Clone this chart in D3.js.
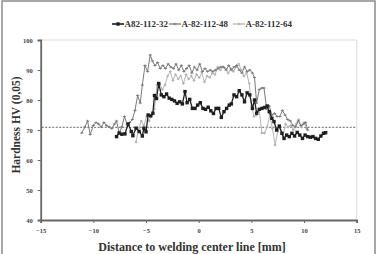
<!DOCTYPE html>
<html><head><meta charset="utf-8">
<script src="https://cdn.jsdelivr.net/npm/d3@7"></script>
<style>html,body{margin:0;padding:0;background:#fff;}svg{display:block;}</style>
</head><body>
<svg id="c" width="378" height="254"></svg>
<script>
const seriesNames = ["A82-112-32", "A-82-112-48", "A-82-112-64"];
const xTicks = [-15, -10, -5, 0, 5, 10, 15];
const yTicks = [40, 50, 60, 70, 80, 90, 100];
const refLine = 70.9;

const x32 = [-7.8,-7.55,-7.3,-7.0,-6.7,-6.4,-6.25,-5.95,-5.65,-5.35,-5.2,-5.0,-4.8,-4.55,-4.35,-4.2,-4.0,-3.8,-3.55,-3.3,-3.05,-2.8,-2.55,-2.3,-2.05,-1.8,-1.55,-1.3,-1.1,-0.85,-0.6,-0.35,-0.1,0.15,0.4,0.65,0.9,1.15,1.4,1.65,1.9,2.15,2.4,2.65,2.9,3.1,3.35,3.6,3.85,4.1,4.35,4.6,4.85,5.1,5.3,5.5,5.75,6.0,6.25,6.5,6.7,6.95,7.15,7.4,7.65,7.9,8.1,8.35,8.6,8.85,9.1,9.35,9.6,9.85,10.1,10.35,10.6,10.85,11.1,11.35,11.6,11.85,12.05];
const y32 = [67.8,69.0,68.6,68.7,72.0,69.5,68.1,70.6,69.5,68.0,70.6,69.4,75.0,74.7,75.6,81.5,80.5,85.5,81.7,81.1,82.0,80.6,80.2,79.7,78.9,79.4,78.7,82.8,79.1,80.2,77.2,77.2,78.3,79.1,77.2,76.9,77.6,76.4,75.5,77.2,77.2,74.2,76.1,77.2,78.3,78.7,81.7,81.1,83.1,81.7,79.4,82.4,81.7,77.2,80.0,75.6,76.9,77.2,77.5,78.0,76.1,73.9,72.8,70.0,71.3,68.9,67.2,68.3,67.8,68.9,68.0,69.2,68.3,67.2,68.3,67.8,67.6,67.8,67.2,66.9,68.0,68.9,69.1];

const x48 = [-11.1,-10.8,-10.55,-10.3,-10.0,-9.75,-9.5,-9.25,-9.0,-8.75,-8.5,-8.25,-8.0,-7.8,-7.55,-7.3,-7.05,-6.8,-6.55,-6.3,-6.05,-5.8,-5.55,-5.35,-5.1,-4.85,-4.6,-4.4,-4.15,-3.9,-3.65,-3.4,-3.15,-2.9,-2.65,-2.4,-2.15,-1.9,-1.65,-1.4,-1.15,-0.9,-0.65,-0.4,-0.15,0.1,0.35,0.6,0.85,1.1,1.35,1.6,1.85,2.1,2.35,2.6,2.85,3.1,3.35,3.6,3.85,4.1,4.35,4.6,4.85,5.1,5.3,5.5,5.75,6.0,6.2,6.45,6.7,6.95,7.2,7.45,7.7,7.95,8.2,8.45,8.7,8.95,9.2,9.45,9.7,9.95,10.15,10.35];
const y48 = [69.0,71.0,73.0,68.5,71.5,72.5,72.0,71.0,72.5,71.5,71.0,70.5,72.0,73.0,69.0,71.0,74.5,72.0,72.5,73.5,76.5,81.5,79.0,85.0,91.5,89.5,95.0,93.0,91.5,92.5,90.5,91.5,90.5,92.0,91.0,90.5,92.0,90.0,91.5,89.5,90.5,91.5,89.0,91.0,90.0,92.0,89.5,90.5,89.5,90.0,89.5,90.0,90.5,91.0,91.0,90.0,91.5,90.0,91.0,91.5,90.0,89.0,91.0,89.5,90.0,89.0,87.5,79.0,83.5,84.0,84.0,77.0,78.0,75.0,75.5,74.5,74.5,76.5,75.0,73.5,73.0,71.5,71.0,73.0,71.5,72.0,72.5,70.0];

const x64 = [-5.95,-5.7,-5.45,-5.2,-4.95,-4.7,-4.45,-4.2,-3.95,-3.7,-3.45,-3.2,-2.95,-2.7,-2.45,-2.2,-1.95,-1.7,-1.45,-1.2,-0.95,-0.7,-0.45,-0.2,0.05,0.3,0.55,0.8,1.05,1.3,1.55,1.8,2.05,2.3,2.55,2.8,3.05,3.3,3.55,3.8,4.05,4.3,4.55,4.8,5.0,5.25,5.5,5.75,6.0,6.25,6.5,6.75,7.0,7.25,7.5,7.75,8.0,8.25,8.5,8.75,9.0,9.25,9.5,9.75,10.0,10.25];
const y64 = [66.0,70.5,73.0,71.5,74.5,73.0,75.0,77.0,85.0,85.5,83.5,85.0,88.0,89.5,86.5,88.5,87.0,88.0,85.5,88.5,87.0,88.0,86.5,88.5,87.5,89.0,86.0,88.0,87.5,89.0,88.5,91.0,90.0,91.0,90.5,89.0,90.5,89.5,91.0,92.0,90.0,88.0,89.0,85.5,78.0,74.5,75.0,76.5,69.0,69.0,71.0,75.0,70.5,65.0,69.5,71.0,68.0,72.0,71.0,71.5,70.0,72.0,73.5,71.0,72.5,70.5];

const seriesColors = ["#1e1e1e", "#7a7a7a", "#b4b4b4"];

const svg = d3.select("#c");
const L = 40.7, R = 356.7, T = 40, B = 220;
const serif = "'Liberation Serif','Times New Roman',serif";

// outer frame
svg.append("rect").attr("x", 2).attr("y", 1).attr("width", 373).attr("height", 260)
  .attr("fill", "none").attr("stroke", "#8a8a8a").attr("stroke-width", 1.5);

const x = d3.scaleLinear().domain([-15, 15]).range([L, R]);
const y = d3.scaleLinear().domain([40, 100]).range([B, T]);

// plot area faint border
svg.append("path").attr("d", `M${L},${T}H${R}V${B}`).attr("fill", "none")
  .attr("stroke", "#dcdcdc").attr("stroke-width", 1);

// axes
const xAxis = svg.append("g").attr("transform", `translate(0,${B})`)
  .call(d3.axisBottom(x).tickValues(xTicks).tickSize(3).tickPadding(5).tickFormat(d3.format("d")));
const yAxis = svg.append("g").attr("transform", `translate(${L},0)`)
  .call(d3.axisLeft(y).tickValues(yTicks).tickSize(3).tickPadding(5).tickFormat(d3.format("d")));
[xAxis, yAxis].forEach(g => {
  g.select(".domain").attr("stroke", "#666").attr("stroke-width", 1.8);
  g.selectAll(".tick line").attr("stroke", "#666").attr("stroke-width", 1);
  g.selectAll(".tick text").attr("fill", "#444").attr("font-family", serif)
    .attr("font-weight", "bold").attr("font-size", 6.5);
});

// reference dashed line
svg.append("line").attr("x1", x(-15) + 1).attr("x2", x(15)).attr("y1", y(refLine)).attr("y2", y(refLine))
  .attr("stroke", "#555").attr("stroke-width", 0.9).attr("stroke-dasharray", "2,1.5");

const data = [
  {name: seriesNames[0], xs: x32, ys: y32, color: seriesColors[0], w: 1.3, marker: "square"},
  {name: seriesNames[1], xs: x48, ys: y48, color: seriesColors[1], w: 1.0, marker: "dash"},
  {name: seriesNames[2], xs: x64, ys: y64, color: seriesColors[2], w: 1.0, marker: "diamond"}
];

const line = d3.line().x(d => x(d[0])).y(d => y(d[1]));

function drawMarker(g, cx, cy, s) {
  if (s.marker === "square") {
    g.append("rect").attr("x", cx - 1.7).attr("y", cy - 1.7).attr("width", 3.4).attr("height", 3.4).attr("fill", s.color);
  } else if (s.marker === "dash") {
    g.append("path").attr("d", `M${cx - 1.6},${cy}H${cx + 1.6}M${cx},${cy - 1.2}V${cy + 1.2}`)
      .attr("stroke", s.color).attr("stroke-width", 0.9);
  } else {
    g.append("path").attr("d", `M${cx},${cy - 1.6}L${cx + 1.6},${cy}L${cx},${cy + 1.6}L${cx - 1.6},${cy}Z`)
      .attr("fill", s.color);
  }
}

[data[2], data[1], data[0]].forEach(s => {
  const pts = s.xs.map((v, i) => [v, s.ys[i]]);
  svg.append("path").datum(pts).attr("d", line).attr("fill", "none")
    .attr("stroke", s.color).attr("stroke-width", s.w).attr("stroke-linejoin", "round");
  const g = svg.append("g");
  pts.forEach(p => drawMarker(g, x(p[0]), y(p[1]), s));
});

// legend
const legX = [112, 169, 233];
const legY = 24;
data.forEach((s, i) => {
  const g = svg.append("g");
  g.append("line").attr("x1", legX[i]).attr("x2", legX[i] + 12).attr("y1", legY).attr("y2", legY)
    .attr("stroke", s.color).attr("stroke-width", s.w + 0.3);
  drawMarker(g, legX[i] + 6, legY, s);
  g.append("text").attr("x", legX[i] + 12.5).attr("y", legY + 3.2).attr("font-family", serif)
    .attr("font-weight", "bold").attr("font-size", 9).attr("fill", "#333").text(s.name);
});

// axis titles
svg.append("text").attr("x", 192).attr("y", 251).attr("text-anchor", "middle")
  .attr("font-family", serif).attr("font-weight", "bold").attr("font-size", 12).attr("fill", "#333")
  .text("Distance to welding center line [mm]");
svg.append("text").attr("transform", `translate(19.5,125) rotate(-90)`).attr("text-anchor", "middle")
  .attr("font-family", serif).attr("font-weight", "bold").attr("font-size", 11.5).attr("fill", "#333")
  .text("Hardness HV (0,05)");
</script>
</body></html>
